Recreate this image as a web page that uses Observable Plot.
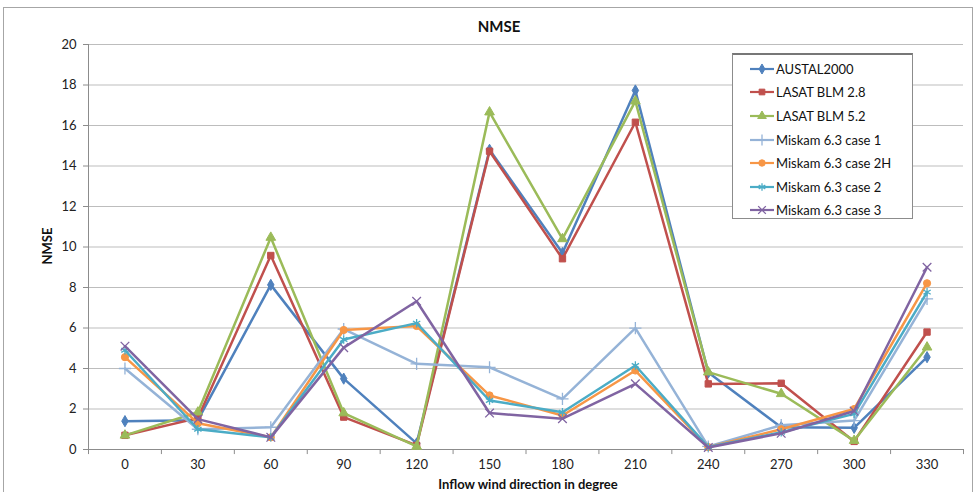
<!DOCTYPE html>
<html>
<head>
<meta charset="utf-8">
<script src="https://cdn.jsdelivr.net/npm/d3@7"></script>
<script src="https://cdn.jsdelivr.net/npm/@observablehq/plot@0.6"></script>
<style>
  html, body { margin: 0; padding: 0; background: #fff; }
  #wrap { position: relative; width: 977px; height: 492px; font-family: Lato, "Open Sans", sans-serif; }
  #frame { position: absolute; left: 3px; top: 7px; width: 970px; height: 490px; border: 1px solid #a6a6a6; box-sizing: border-box; pointer-events: none; }
  #title { position: absolute; left: 449px; top: 17px; width: 100px; text-align: center; font-weight: bold; font-size: 15px; color: #111; }
  #ylab { position: absolute; left: 47px; top: 246px; transform: translate(-50%, -50%) rotate(-90deg); font-weight: bold; font-size: 13px; color: #111; white-space: nowrap; }
  #xlab { position: absolute; left: 528px; top: 476px; transform: translateX(-50%); font-weight: bold; font-size: 13px; color: #111; white-space: nowrap; }
  #legend { position: absolute; left: 732px; top: 53px; width: 181px; height: 166px; background: #fff; border: 1px solid #8c8c8c; border-top: 2px solid #777; box-sizing: border-box; padding-top: 2px; }
  .lrow { display: flex; align-items: center; height: 23.6px; font-size: 13px; color: #111; }
  .lrow svg { margin-left: 17px; margin-right: 2px; }
  svg.plot { position: absolute; left: 0; top: 0; }
</style>
</head>
<body>
<div id="wrap">
  <div id="chart"></div>
  <div id="frame"></div>
  <div id="title">NMSE</div>
  <div id="ylab">NMSE</div>
  <div id="xlab">Inflow wind direction in degree</div>
  <div id="legend"></div>
</div>
<script>
// ---- data ----
const categories = [0, 30, 60, 90, 120, 150, 180, 210, 240, 270, 300, 330];
const yTicks = [0, 2, 4, 6, 8, 10, 12, 14, 16, 18, 20];
const seriesNames = ["AUSTAL2000", "LASAT BLM 2.8", "LASAT BLM 5.2", "Miskam 6.3 case 1", "Miskam 6.3 case 2H", "Miskam 6.3 case 2", "Miskam 6.3 case 3"];
const austal2000 = [1.4, 1.45, 8.13, 3.5, 0.3, 14.8, 9.7, 17.73, 3.8, 1.1, 1.07, 4.56];
const lasat28    = [0.7, 1.55, 9.58, 1.6, 0.2, 14.73, 9.42, 16.16, 3.24, 3.27, 0.4, 5.8];
const lasat52    = [0.7, 1.84, 10.47, 1.8, 0.15, 16.66, 10.4, 17.2, 3.82, 2.75, 0.44, 5.05];
const miskam1    = [4.0, 1.0, 1.1, 5.95, 4.23, 4.06, 2.5, 5.99, 0.15, 1.2, 1.43, 7.44];
const miskam2H   = [4.56, 1.3, 0.6, 5.9, 6.1, 2.67, 1.68, 3.9, 0.12, 1.0, 2.0, 8.21];
const miskam2    = [4.9, 1.0, 0.6, 5.43, 6.24, 2.42, 1.84, 4.15, 0.12, 0.85, 1.76, 7.77];
const miskam3    = [5.1, 1.5, 0.6, 5.03, 7.32, 1.8, 1.52, 3.24, 0.1, 0.8, 1.9, 9.0];
const seriesValues = [austal2000, lasat28, lasat52, miskam1, miskam2H, miskam2, miskam3];
const colors = ["#4f81bd", "#c0504d", "#9bbb59", "#95b3d7", "#f79646", "#4bacc6", "#8064a2"];
const symbols = ["diamond", "square", "triangle", "plus", "circle", "asterisk", "times"];
const radii = [3.4, 3.6, 3.6, 4, 3.6, 4, 4];

// long table
const table = [];
seriesNames.forEach((name, s) => {
  categories.forEach((c, i) => table.push({series: name, dir: c, v: seriesValues[s][i]}));
});
const half = (categories[1] - categories[0]) / 2;
const bounds = categories.map(c => c - half).concat([categories[categories.length - 1] + half]);

const marks = [
  Plot.ruleY(yTicks.slice(1), {stroke: "#bdbdbd", strokeWidth: 1}),
  Plot.ruleY([0], {stroke: "#8c8c8c", strokeWidth: 1}),
  Plot.ruleX([bounds[0]], {y1: 0, y2: yTicks[yTicks.length - 1], stroke: "#8c8c8c"}),
  Plot.ruleX(bounds, {y1: 0, y2: -0.25, stroke: "#8c8c8c"})
];
seriesNames.forEach((name, s) => {
  const d = table.filter(r => r.series === name);
  marks.push(Plot.line(d, {x: "dir", y: "v", stroke: colors[s], strokeWidth: 2.5}));
  const stroky = ["plus", "asterisk", "times"].includes(symbols[s]);
  marks.push(Plot.dot(d, {x: "dir", y: "v", symbol: () => symbols[s], r: radii[s],
    fill: stroky ? "none" : colors[s], stroke: colors[s], strokeWidth: stroky ? 1.3 : 1}));
});

const chart = Plot.plot({
  width: 977, height: 492,
  marginLeft: 88, marginRight: 14, marginTop: 44, marginBottom: 43,
  x: {domain: [bounds[0], bounds[bounds.length - 1]], ticks: categories, tickSize: 0, tickPadding: 10, label: null, tickFormat: d => String(d)},
  y: {domain: [0, 20], ticks: yTicks, tickSize: 5, tickPadding: 7, label: null},
  symbol: {domain: symbols, range: symbols},
  style: {fontFamily: "Lato, 'Open Sans', sans-serif", fontSize: "13px", color: "#222", background: "transparent", overflow: "visible"},
  marks
});
document.getElementById("chart").appendChild(chart);
// tint y-axis tick lines grey
chart.querySelectorAll('g[aria-label="y-axis"] line, g[aria-label="y-axis tick"] path').forEach(el => el.setAttribute("stroke", "#8c8c8c"));

// legend
const leg = d3.select("#legend");
const symMap = {diamond: d3.symbolDiamond, square: d3.symbolSquare, triangle: d3.symbolTriangle, plus: d3.symbolPlus, circle: d3.symbolCircle, asterisk: d3.symbolAsterisk, times: d3.symbolTimes};
seriesNames.forEach((name, s) => {
  const row = leg.append("div").attr("class", "lrow");
  const sv = row.append("svg").attr("width", 24).attr("height", 12);
  sv.append("line").attr("x1", 0).attr("x2", 24).attr("y1", 6).attr("y2", 6).attr("stroke", colors[s]).attr("stroke-width", 2.2);
  const stroky = ["plus", "asterisk", "times"].includes(symbols[s]);
  sv.append("path").attr("transform", "translate(12,6)")
    .attr("d", d3.symbol(symMap[symbols[s]], Math.PI * radii[s] * radii[s] * 0.8)())
    .attr("fill", stroky ? "none" : colors[s]).attr("stroke", colors[s]).attr("stroke-width", stroky ? 1.3 : 1);
  row.append("span").text(name);
});
</script>
</body>
</html>
